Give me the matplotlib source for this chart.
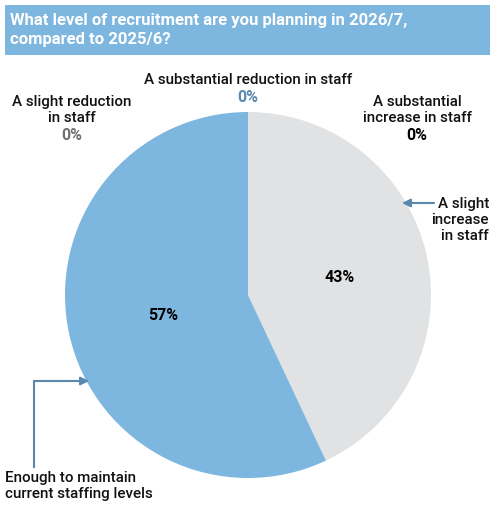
import matplotlib
matplotlib.use("Agg")
import matplotlib.pyplot as plt
from matplotlib.patches import Rectangle

plt.rcParams['font.family'] = ['Roboto', 'DejaVu Sans']

categories = ["A slight increase in staff", "A substantial increase in staff",
              "Enough to maintain current staffing levels",
              "A slight reduction in staff", "A substantial reduction in staff"]
values = [43, 0, 57, 0, 0]
colors = ["#e1e2e4", "#e1e2e4", "#7db6de", "#7db6de", "#7db6de"]
title = "What level of recruitment are you planning in 2026/7,\ncompared to 2025/6?"

W, H = 500, 518
fig = plt.figure(figsize=(W/100, H/100), dpi=100)
ax = fig.add_axes([0, 0, 1, 1])
ax.set_xlim(0, W)
ax.set_ylim(0, H)
ax.set_aspect('equal')
ax.axis('off')

def Y(y):
    return H - y

# Title band
ax.add_patch(Rectangle((5, Y(55)), 485, 50, facecolor="#7db6de", edgecolor="none"))
ax.text(10, Y(30), title, color="white", fontsize=12, fontweight="bold",
        va="center", ha="left", linespacing=1.3)

ax.pie(values, colors=colors, startangle=90, counterclock=False,
       center=(248, Y(295)), radius=183, wedgeprops=dict(linewidth=0))
ax.set_xlim(0, W)
ax.set_ylim(0, H)

fs = 10.9
dark = "#111111"
kw = dict(fontsize=fs, color=dark, fontweight="medium", linespacing=1.15)
pk = dict(fontsize=11.5, fontweight="bold", ha="center", va="center")

ax.text(248, Y(80), "A substantial reduction in staff", ha="center", va="center", **kw)
ax.text(248, Y(98), "0%", color="#5b88ad", **pk)

ax.text(72, Y(110), "A slight reduction\nin staff", ha="center", va="center", **kw)
ax.text(72, Y(136), "0%", color="#707070", **pk)

ax.text(417, Y(110), "A substantial\nincrease in staff", ha="center", va="center", **kw)
ax.text(417, Y(136), "0%", color="#000000", **pk)

ax.text(489, Y(220), "A slight\nincrease\nin staff", ha="right", va="center", **kw)
ax.annotate("", xy=(402, Y(203)), xytext=(434, Y(203)),
            arrowprops=dict(arrowstyle="-|>", color="#5b88ad", lw=1.5, mutation_scale=12, shrinkA=0, shrinkB=0))

ax.text(340, Y(278), f"{values[0]}%", color="#000000", **pk)
ax.text(163, Y(316), f"{values[2]}%", color="#000000", **pk)

ax.text(5, Y(486), "Enough to maintain\ncurrent staffing levels", ha="left", va="center", **kw)
ax.plot([34, 34, 70], [Y(467), Y(381), Y(381)], color="#5b88ad", lw=1.5, solid_joinstyle="miter")
ax.annotate("", xy=(89, Y(381)), xytext=(68, Y(381)),
            arrowprops=dict(arrowstyle="-|>", color="#5b88ad", lw=1.5, mutation_scale=12, shrinkA=0, shrinkB=0))

fig.savefig("out.png", dpi=100)
